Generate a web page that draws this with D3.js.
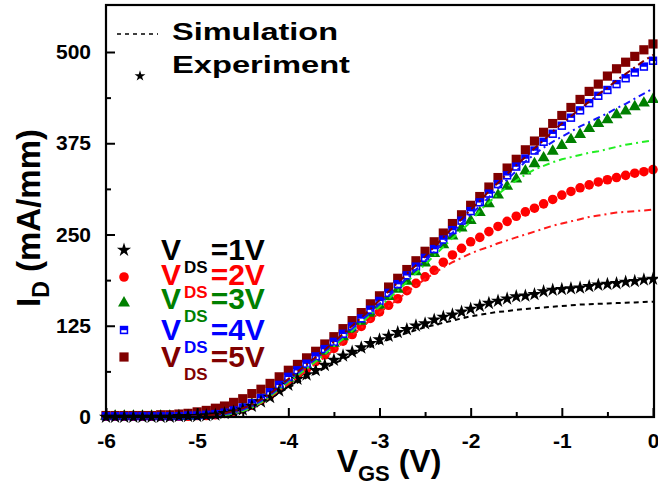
<!DOCTYPE html>
<html>
<head>
<meta charset="utf-8">
<script src="https://cdn.jsdelivr.net/npm/d3@7"></script>
<style>
  html, body { margin: 0; padding: 0; background: #fff; }
  svg { display: block; }
  text { font-family: "Liberation Sans", Arial, sans-serif; font-weight: bold; }
</style>
</head>
<body>
<svg id="chart" width="658" height="487"></svg>
<script>
// Gate voltage sweep (V)
const vgs = [-6.0,-5.9,-5.8,-5.7,-5.6,-5.5,-5.4,-5.3,-5.2,-5.1,
             -5.0,-4.9,-4.8,-4.7,-4.6,-4.5,-4.4,-4.3,-4.2,-4.1,
             -4.0,-3.9,-3.8,-3.7,-3.6,-3.5,-3.4,-3.3,-3.2,-3.1,
             -3.0,-2.9,-2.8,-2.7,-2.6,-2.5,-2.4,-2.3,-2.2,-2.1,
             -2.0,-1.9,-1.8,-1.7,-1.6,-1.5,-1.4,-1.3,-1.2,-1.1,
             -1.0,-0.9,-0.8,-0.7,-0.6,-0.5,-0.4,-0.3,-0.2,-0.1, 0.0];

// Measured drain current (mA/mm)
const expVds1 = [0,0,0,0,0,0,0,0,1,1,
                 1,2,3,5,7,10,15,21,27,36,
                 44,52,58,64,71,78,84,89,95,101,
                 106,111,116,120,125,128,133,137,140,144,
                 148,152,156,159,162,165,166,168,172,174,
                 175,176,177,179,181,182,183,185,186,188,189];
const expVds2 = [1,1,1,1,1,1,1,1,1,1,
                 2,2,3,5,8,11,16,23,30,39,
                 48,57,66,76,85,94,104,113,124,135,
                 144,153,162,173,183,192,201,212,222,231,
                 240,246,254,261,268,275,281,286,292,298,
                 304,309,314,318,322,325,328,331,334,336,339];
const expVds3 = [1,1,1,1,1,1,1,1,1,1,
                 2,2,4,6,9,13,18,25,33,43,
                 53,61,71,80,90,101,110,120,131,142,
                 153,165,175,186,199,211,224,236,248,259,
                 269,280,292,304,316,326,337,347,355,364,
                 372,380,387,395,402,407,414,419,425,430,435];
const expVds4 = [1,1,1,1,1,1,1,1,1,2,
                 2,3,4,6,9,13,19,26,34,44,
                 55,64,73,83,93,103,114,124,135,147,
                 159,170,182,194,206,218,230,243,256,269,
                 282,294,306,319,331,343,354,365,377,388,
                 399,410,420,430,440,448,456,464,472,480,488];
const expVds5 = [2,2,2,2,2,2,3,3,4,5,
                 7,9,12,15,20,25,32,38,46,55,
                 64,72,81,90,100,110,121,132,143,155,
                 166,178,190,202,214,227,240,252,265,277,
                 290,302,315,328,341,353,366,378,390,402,
                 413,424,435,446,456,467,477,486,494,503,511];

// Simulated drain current (mA/mm)
const simVds1 = [0,0,0,0,0,0,0,0,0,0,
                 0,0.5,1,2.5,5,9,14,20,26,33,
                 40,47,54,60,67,73,79,85,91,96,
                 101,106,111,115,119,123,126,129,132,135,
                 138,140,142,144,145,147,148,149,150,151,
                 152,153,154,154.5,155,155.5,156,156.5,157,157.5,158];
const simVds2 = [0,0,0,0,0,0,0,0,0,0,
                 0,0.5,1,2.5,5,8,13,19,27,36,
                 45,54,63,73,82,92,102,112,122,133,
                 143,152,161,171,180,189,197,205,212,218,
                 224,229,233,238,242,246,250,254,258,262,
                 265,268,271,274,276,278,280,281,282,283,284];
const simVds3 = [0,0,0,0,0,0,0,0,0,0,
                 0,0.5,1,2.5,5,8,13,20,28,38,
                 48,57,66,76,86,97,107,118,129,140,
                 151,162,173,185,197,209,221,233,245,256,
                 267,283,294,305,315,324,332,339,344,349,
                 353,356,359,362,364,367,370,373,375,377,379];
const simVds4 = [0,0,0,0,0,0,0,0,0,0,
                 1,1,2,4,6,10,15,22,30,40,
                 50,60,70,80,90,100,111,121,132,143,
                 155,166,178,190,202,214,226,239,252,265,
                 277,289,301,313,325,337,350,360,369,377,
                 384,391,398,404,410,416,423,429,436,443,450];
const simVds5 = [0,0,0,0,0,0,0,0,0,0,
                 1,2,3,5,8,12,17,24,32,42,
                 52,62,72,82,92,103,114,125,136,148,
                 160,172,184,196,208,220,233,246,259,271,
                 284,296,309,321,333,345,356,368,379,391,
                 402,412,422,432,442,451,461,470,479,488,496];

// Axis ticks
const xTicks = [-6, -5, -4, -3, -2, -1, 0];
const xMinorTicks = [-5.5, -4.5, -3.5, -2.5, -1.5, -0.5];
const yTicks = [0, 125, 250, 375, 500];
const yMinorTicks = [62.5, 187.5, 312.5, 437.5];

// Legend entries
const vdsLabels = ["=1V", "=2V", "=3V", "=4V", "=5V"];

const series = [
  { label: vdsLabels[0], exp: expVds1, sim: simVds1, color: "#000000", simColor: "#000000", marker: "star",     dash: "5,4" },
  { label: vdsLabels[1], exp: expVds2, sim: simVds2, color: "#ff0000", simColor: "#ff1a1a", marker: "circle",   dash: "7,4,2,4" },
  { label: vdsLabels[2], exp: expVds3, sim: simVds3, color: "#008000", simColor: "#22ee22", marker: "triangle", dash: "7,4,2,4" },
  { label: vdsLabels[3], exp: expVds4, sim: simVds4, color: "#0000ff", simColor: "#1414ff", marker: "halfsq",   dash: "7,4,2,4" },
  { label: vdsLabels[4], exp: expVds5, sim: simVds5, color: "#800000", simColor: "#800000", marker: "square",   dash: "7,4,2,4" }
];

const svg = d3.select("#chart");
const plot = { left: 106, right: 653, top: 5, bottom: 417 };

const x = d3.scaleLinear().domain([-6, 0]).range([plot.left, plot.right]);
const y = d3.scaleLinear().domain([0, 500]).range([plot.bottom, plot.bottom - 365]);

// Marker drawing
function drawMarker(g, type, color) {
  if (type === "star") {
    g.append("path").attr("d", d3.symbol(d3.symbolStar, 62)()).attr("fill", color);
  } else if (type === "circle") {
    g.append("circle").attr("r", 4.8).attr("fill", color);
  } else if (type === "triangle") {
    g.append("path").attr("d", d3.symbol(d3.symbolTriangle, 62)()).attr("fill", color);
  } else if (type === "square") {
    g.append("rect").attr("x", -4.6).attr("y", -4.6).attr("width", 9.2).attr("height", 9.2).attr("fill", color);
  } else if (type === "halfsq") {
    g.append("rect").attr("x", -4.2).attr("y", -4.2).attr("width", 8.4).attr("height", 8.4).attr("fill", color);
    g.append("rect").attr("x", -2.7).attr("y", 0.2).attr("width", 5.4).attr("height", 2.4).attr("fill", "#fff");
  }
}

// Experimental markers (drawn bottom to top)
const markerOrder = [1, 2, 4, 3, 0];
markerOrder.forEach(i => {
  const s = series[i];
  const grp = svg.append("g").attr("class", "exp");
  s.exp.forEach((v, k) => {
    const g = grp.append("g").attr("transform", `translate(${x(vgs[k])},${y(v)})`);
    drawMarker(g, s.marker, s.color);
  });
});

// Simulation curves
const line = d3.line().x((d, k) => x(vgs[k])).y(d => y(d));
series.forEach(s => {
  svg.append("path")
    .datum(s.sim)
    .attr("d", line)
    .attr("fill", "none")
    .attr("stroke", s.simColor)
    .attr("stroke-width", 2)
    .attr("stroke-dasharray", s.dash);
});

// Frame
svg.append("rect")
  .attr("x", plot.left).attr("y", plot.top)
  .attr("width", plot.right + 1 - plot.left).attr("height", plot.bottom - plot.top)
  .attr("fill", "none").attr("stroke", "#000").attr("stroke-width", 2.2);

// Axes with inward ticks; labels use a plain hyphen for negatives
const plainFmt = d => String(d);
const xAxis = svg.append("g").attr("transform", `translate(0,${plot.bottom})`)
  .call(d3.axisBottom(x).tickValues(xTicks).tickSize(-9).tickPadding(16).tickFormat(plainFmt));
xAxis.selectAll("line").attr("stroke-width", 2);
xAxis.select(".domain").remove();
xAxis.selectAll("text").attr("font-size", 21).attr("fill", "#000").attr("dy", "0.71em");

const xMinor = svg.append("g").attr("transform", `translate(0,${plot.bottom})`)
  .call(d3.axisBottom(x).tickValues(xMinorTicks).tickSize(-5).tickFormat(""));
xMinor.selectAll("line").attr("stroke-width", 2);
xMinor.select(".domain").remove();

const yAxis = svg.append("g").attr("transform", `translate(${plot.left},0)`)
  .call(d3.axisLeft(y).tickValues(yTicks).tickSize(-9).tickPadding(15).tickFormat(plainFmt));
yAxis.selectAll("line").attr("stroke-width", 2);
yAxis.select(".domain").remove();
yAxis.selectAll("text").attr("font-size", 21).attr("fill", "#000");

const yMinor = svg.append("g").attr("transform", `translate(${plot.left},0)`)
  .call(d3.axisLeft(y).tickValues(yMinorTicks).tickSize(-5).tickFormat(""));
yMinor.selectAll("line").attr("stroke-width", 2);
yMinor.select(".domain").remove();

// Axis titles
const xt = svg.append("text").attr("x", 389).attr("y", 472).attr("text-anchor", "middle").attr("font-size", 32);
xt.append("tspan").text("V");
xt.append("tspan").attr("font-size", 22).attr("dy", 9).text("GS");
xt.append("tspan").attr("dy", -9).text(" (V)");

const yt = svg.append("text").attr("transform", "translate(40,218) rotate(-90)").attr("text-anchor", "middle").attr("font-size", 33);
yt.append("tspan").text("I");
yt.append("tspan").attr("font-size", 23).attr("dy", 9).text("D");
yt.append("tspan").attr("dy", -9).text(" (mA/mm)");

// Top legend: simulation vs experiment
svg.append("line").attr("x1", 117).attr("x2", 158).attr("y1", 34).attr("y2", 34)
  .attr("stroke", "#000").attr("stroke-width", 1.6).attr("stroke-dasharray", "4,4");
svg.append("text").attr("x", 172).attr("y", 40).attr("font-size", 24)
  .attr("textLength", 166).attr("lengthAdjust", "spacingAndGlyphs").text("Simulation");
svg.append("path").attr("d", d3.symbol(d3.symbolStar, 36)())
  .attr("transform", "translate(140,76)").attr("fill", "#000");
svg.append("text").attr("x", 172).attr("y", 73).attr("font-size", 24)
  .attr("textLength", 178).attr("lengthAdjust", "spacingAndGlyphs").text("Experiment");

// Left legend: drain bias
const rowBase = [260, 285, 309, 340, 367];
const rowMark = [250, 277, 303, 330, 357];
series.forEach((s, i) => {
  const g = svg.append("g").attr("transform", `translate(124,${rowMark[i]})`);
  drawMarker(g, s.marker, s.color);
  const t = svg.append("text").attr("x", 161).attr("y", rowBase[i]).attr("font-size", 30).attr("fill", s.color);
  t.append("tspan").text("V");
  t.append("tspan").attr("font-size", 17).attr("dx", 3).attr("dy", 13).text("DS");
  t.append("tspan").attr("dx", 3).attr("dy", -13).text(s.label);
});
</script>
</body>
</html>
